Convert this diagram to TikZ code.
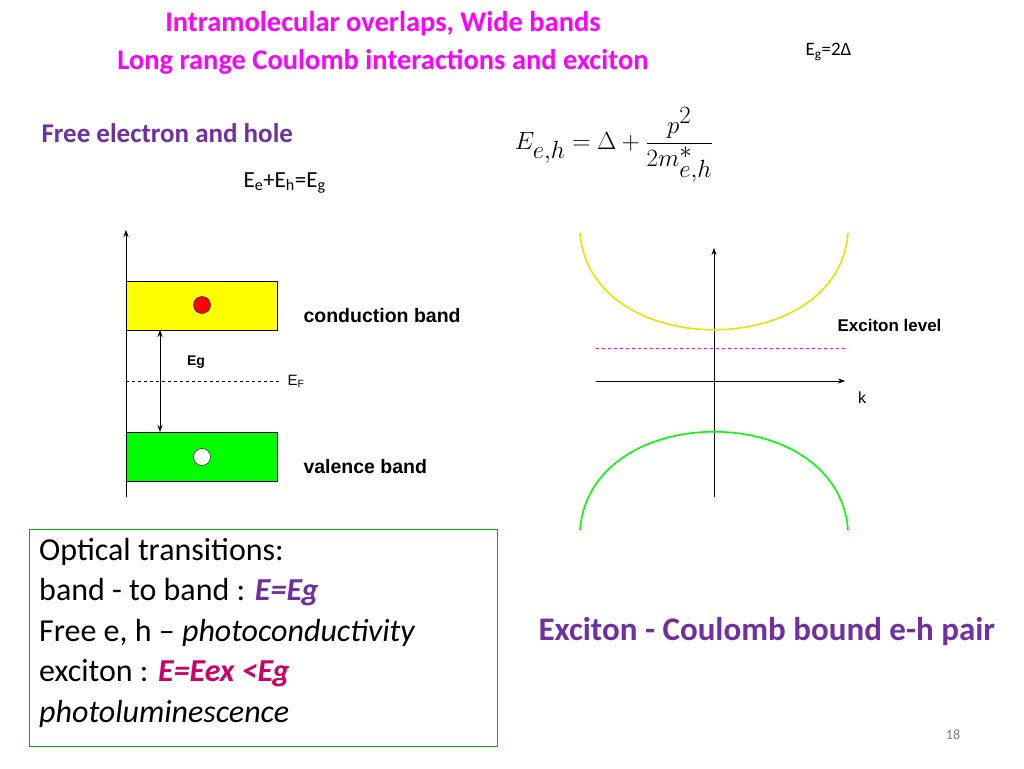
\documentclass[tikz,border=0pt]{standalone}
\usepackage{fontspec}
\setmainfont{Carlito}
\newfontfamily\arial{Liberation Sans}
\usetikzlibrary{arrows.meta}
\definecolor{mag}{HTML}{FF00FF}
\definecolor{vio}{HTML}{7030A0}
\definecolor{pinkred}{HTML}{CC0066}
\definecolor{ygreen}{HTML}{00FF00}
\definecolor{yell}{HTML}{FFFF00}
\begin{document}
\begin{tikzpicture}[x=1pt,y=-1pt,
  ttl/.style={font=\fontsize{28.5}{32}\selectfont\bfseries,text=mag},
  lbl/.style={font=\arial\fontsize{19.5}{22}\selectfont\bfseries,anchor=west},
  ax/.style={-{Stealth[length=7pt,width=5pt]},thin},
  band/.style={draw=black,thin}]
\useasboundingbox (0,0) rectangle (1024,768);
\node[ttl] (t1) at (383,24) {Intramolecular overlaps, Wide bands};
\node[ttl] (t2) at (383,62) {Long range Coulomb interactions and exciton};
\node[anchor=west,font=\fontsize{19}{22}\selectfont] (eg) at (802,52) {E\textsubscript{g}=2Δ};
\node[anchor=west,font=\fontsize{27}{30}\selectfont\bfseries,text=vio] (feh) at (38,133) {Free electron and hole};
\node[anchor=west,font=\fontsize{23}{26}\selectfont] (sum) at (240,183) {E\textsubscript{e}+E\textsubscript{h}=E\textsubscript{g}};
\node[font=\fontsize{36}{40}\selectfont] (form) at (614,145) {$\displaystyle E_{e,h} = \Delta + \frac{p^{2}}{2m^{*}_{e,h}}$};
% left diagram
\coordinate (la0) at (126,497); \coordinate (la1) at (126,230);
\draw[ax] (la0) -- (la1);
\draw[band,fill=yell] (126,281) rectangle (277,330);
\draw[band,fill=ygreen] (126,432) rectangle (277,481);
\node[circle,draw,fill=red,minimum size=17pt,inner sep=0] (el) at (202,305) {};
\node[circle,draw,fill=white,minimum size=17pt,inner sep=0] (ho) at (202,457) {};
\coordinate (g0) at (160,330); \coordinate (g1) at (160,432);
\draw[{Stealth[length=7pt,width=5pt]}-{Stealth[length=7pt,width=5pt]},thin] (g0) -- (g1);
\node[font=\arial\fontsize{14}{16}\selectfont\bfseries] (egl) at (196,362) {Eg};
\coordinate (f0) at (126,381); \coordinate (f1) at (280,381);
\draw[dashed,thin] (f0) -- (f1);
\node[anchor=west,font=\arial\fontsize{15}{16}\selectfont] (ef) at (284,381) {E\textsubscript{F}};
\node[lbl] (cb) at (300,316) {conduction band};
\node[lbl] (vb) at (300,467) {valence band};
% right diagram
\coordinate (r0) at (714,497); \coordinate (r1) at (714,248);
\draw[ax] (r0) -- (r1);
\coordinate (h0) at (596,381); \coordinate (h1) at (845,381);
\draw[ax] (h0) -- (h1);
\node[font=\arial\fontsize{16}{18}\selectfont] (k) at (862,398) {k};
\coordinate (x0) at (596,348); \coordinate (x1) at (848,348);
\draw[dashed,mag,thin] (x0) -- (x1);
\node[lbl,font=\arial\fontsize{17}{19}\selectfont\bfseries] (exl) at (834,325) {Exciton level};
\draw[yell!90!black,line width=1.6pt] (580,233) .. controls (590,362) and (838,362) .. (848,233);
\draw[ygreen,line width=1.6pt] (580,530) .. controls (590,399) and (838,399) .. (848,530);
% box
\draw[draw=ygreen!70!black] (29,529) rectangle (497,746);
\node[anchor=north west,align=left,font=\fontsize{32}{40.5}\selectfont,inner sep=0] (box) at (39,538) {Optical transitions:\\
band - to band : {\bfseries\itshape\color{vio}E=Eg}\\
Free e, h -- \textit{photoconductivity}\\
exciton : {\bfseries\itshape\color{pinkred}E=Eex <Eg}\\
\textit{photoluminescence}};
\node[anchor=west,font=\fontsize{33}{36}\selectfont\bfseries,text=vio] (exc) at (535,632) {Exciton - Coulomb bound e-h pair};
\node[font=\fontsize{14}{16}\selectfont,text=gray] (pg) at (953,735) {18};
\end{tikzpicture}
\end{document}
